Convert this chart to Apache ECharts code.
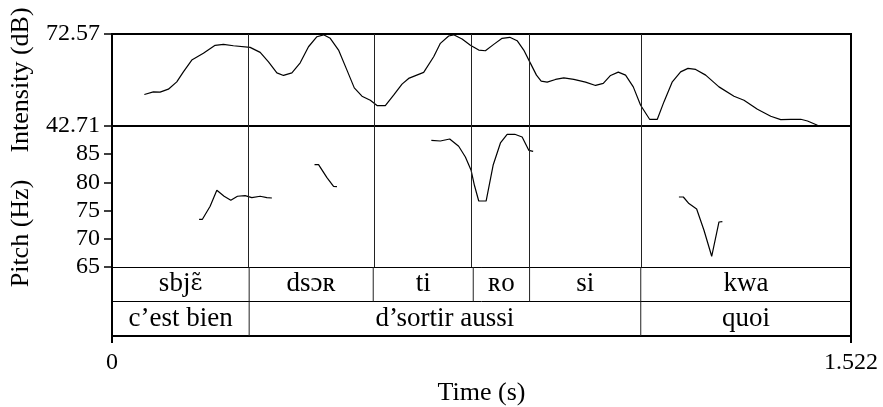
<!DOCTYPE html>
<html><head><meta charset="utf-8">
<script src="https://cdn.jsdelivr.net/npm/echarts@6/dist/echarts.min.js"></script>
<style>html,body{margin:0;padding:0;background:#fff}#c{width:883px;height:407px}</style>
</head><body><div id="c"></div>
<script>
// ---- data ----
const timeRange = [0, 1.522];
const timeTicks = [0, 1.522];
const intensityRange = [42.71, 72.57];
const intensityTicks = [42.71, 72.57];
const pitchRange = [65, 90];
const pitchTicks = [65, 70, 75, 80, 85];

const intensityTime = [0.0666,0.0852,0.0990,0.1161,0.1334,0.1470,0.1643,0.1882,0.2124,0.2295,
  0.2501,0.2845,0.3052,0.3223,0.3396,0.3532,0.3705,0.3876,0.4047,0.4221,
  0.4357,0.4495,0.4666,0.4839,0.4990,0.5148,0.5320,0.5458,0.5629,0.5800,
  0.5973,0.6109,0.6419,0.6625,0.6763,0.6934,0.7037,0.7210,0.7381,0.7553,
  0.7690,0.7862,0.8035,0.8192,0.8344,0.8480,0.8619,0.8742,0.8839,0.8963,
  0.9134,0.9305,0.9511,0.9753,0.9959,1.0118,1.0268,1.0427,1.0577,1.0736,
  1.0887,1.1072,1.1231,1.1367,1.1540,1.1711,1.1862,1.2021,1.2227,1.2501,
  1.2810,1.3016,1.3293,1.3567,1.3773,1.3979,1.4186,1.4324,1.4530];
const intensityDb = [52.94,53.78,53.69,54.66,57.04,60.29,64.10,66.29,68.89,69.22,
  68.76,68.24,66.61,63.55,59.97,59.12,59.97,63.23,68.43,71.69,
  72.30,71.17,67.36,60.85,55.09,52.38,51.08,49.35,49.35,52.71,
  56.29,58.15,60.10,65.18,69.54,71.92,72.30,70.94,68.89,67.36,
  67.13,69.20,71.17,71.50,70.39,67.36,63.03,59.22,57.27,56.94,
  57.82,58.34,57.82,56.94,55.87,56.52,59.12,60.20,59.22,55.41,
  49.45,44.89,44.89,50.53,57.04,60.29,61.40,61.08,59.22,55.41,
  52.38,51.08,48.15,45.87,44.80,44.89,44.89,44.34,42.94];

const pitch1Time = [0.1794,0.1862,0.2021,0.2159,0.2309,0.2447,0.2584,0.2742,0.2880,0.3052,0.3190,0.3293];
const pitch1Hz   = [73.46,73.46,75.76,78.60,77.54,76.83,77.54,77.66,77.31,77.54,77.31,77.23];
const pitch2Time = [0.4171,0.4254,0.4427,0.4563,0.4633];
const pitch2Hz   = [83.16,83.16,80.85,79.31,79.26];
const pitch3Time = [0.6577,0.6763,0.6955,0.7140,0.7278,0.7396,0.7464,0.7553,0.7705,0.7849,0.8000,0.8138,0.8295,0.8447,0.8584,0.8674];
const pitch3Hz   = [87.46,87.34,87.70,86.40,84.50,82.15,79.49,76.70,76.70,83.03,86.99,88.53,88.53,88.05,85.69,85.51];
const pitch4Time = [1.1676,1.1767,1.1882,1.2041,1.2192,1.2351,1.2501,1.2571];
const pitch4Hz   = [77.41,77.41,76.24,75.28,71.51,66.90,72.98,73.05];

const tier1Bounds = [0, 0.2825, 0.538, 0.744, 0.860, 1.089, 1.522];
const tier1Labels = ['sbjɛ̃', 'dsɔʀ', 'ti', 'ʀo', 'si', 'kwa'];
const tier2Bounds = [0, 0.2825, 1.089, 1.522];
const tier2Labels = ['c’est bien', 'd’sortir aussi', 'quoi'];

// ---- chart ----
const FONT = '"Liberation Serif","DejaVu Serif","Times New Roman",serif';
const IPA_FONT = '"DejaVu Serif",serif';
const TICK_FS = 24, TITLE_FS = 26, TIER_FS = 27;
const zip = (a, b) => a.map((v, i) => [v, b[i]]);
const innerBounds = tier1Bounds.slice(1, -1).map(v => ({ xAxis: v }));
const boundLine = {
  silent: true, symbol: 'none', animation: false,
  label: { show: false },
  lineStyle: { color: '#222', width: 1, type: 'solid' },
  data: innerBounds
};
const noAxisExtras = { axisTick: { show: false }, axisLabel: { show: false }, splitLine: { show: false } };
const thick = { show: true, onZero: false, lineStyle: { color: '#000', width: 2 } };

// Combining diacritics need a font with mark positioning: wrap them in a rich segment.
function richText(s) {
  return s.replace(/(.[\u0300-\u036f]+)/g, '{ipa|$1}');
}

function tierSeries(bounds, labels, row) {
  const data = labels.map((l, i) => [bounds[i], bounds[i + 1], row]);
  return {
    type: 'custom', xAxisIndex: 2, yAxisIndex: 3, silent: true, animation: false,
    encode: { x: [0, 1], y: 2 },
    data,
    renderItem(params, api) {
      const s = api.value(0), e = api.value(1), r = api.value(2);
      const top = api.coord([s, r + 0.5]);
      const bot = api.coord([s, r - 0.5]);
      const mid = api.coord([(s + e) / 2, r]);
      const children = [{
        type: 'text', x: mid[0], y: mid[1],
        style: { text: richText(labels[params.dataIndex]), fill: '#000', align: 'center', verticalAlign: 'middle',
                 fontSize: TIER_FS, fontFamily: FONT,
                 rich: { ipa: { fontSize: 23, fontFamily: IPA_FONT, fill: '#000' } } }
      }];
      if (s > 0) children.push({
        type: 'line', shape: { x1: top[0], y1: top[1], x2: bot[0], y2: bot[1] },
        style: { stroke: '#222', lineWidth: 1 }
      });
      return { type: 'group', children };
    }
  };
}

const pitchLine = (t, h) => ({
  type: 'line', xAxisIndex: 1, yAxisIndex: 1, data: zip(t, h), showSymbol: false,
  lineStyle: { color: '#000', width: 1.2 }, animation: false, silent: true
});

const option = {
  backgroundColor: '#fff',
  animation: false,
  textStyle: { fontFamily: FONT, color: '#000' },
  grid: [
    { left: 112, top: 34, width: 739, height: 92, show: true, borderColor: '#000', borderWidth: 2, backgroundColor: 'transparent' },
    { left: 112, top: 126, width: 739, height: 141 },
    { left: 112, top: 267, width: 739, height: 70 },
    { left: 112, top: 128, width: 739, height: 211 }
  ],
  xAxis: [
    { gridIndex: 0, type: 'value', min: timeRange[0], max: timeRange[1], show: false },
    { gridIndex: 1, type: 'value', min: timeRange[0], max: timeRange[1],
      axisLine: { show: true, onZero: false, lineStyle: { color: '#000', width: 1 } }, ...noAxisExtras },
    { gridIndex: 2, type: 'value', min: timeRange[0], max: timeRange[1], position: 'bottom',
      axisLine: thick,
      axisTick: { show: true, customValues: timeTicks, length: 7, lineStyle: { color: '#000', width: 2 } },
      axisLabel: { show: true, customValues: timeTicks, margin: 15, color: '#000', fontSize: TICK_FS, fontFamily: FONT,
                   formatter: v => String(v) },
      splitLine: { show: false },
      name: 'Time (s)', nameLocation: 'middle', nameGap: 44,
      nameTextStyle: { color: '#000', fontSize: TITLE_FS, fontFamily: FONT } },
    { gridIndex: 3, type: 'value', min: timeRange[0], max: timeRange[1], show: false }
  ],
  yAxis: [
    { gridIndex: 0, type: 'value', min: intensityRange[0], max: intensityRange[1],
      axisLine: thick,
      axisTick: { show: true, customValues: intensityTicks, length: 8, lineStyle: { color: '#000', width: 1.5 } },
      axisLabel: { show: true, customValues: intensityTicks, margin: 12, color: '#000', fontSize: TICK_FS, fontFamily: FONT,
                   formatter: v => v.toFixed(2) },
      splitLine: { show: false },
      name: 'Intensity (dB)', nameLocation: 'middle', nameRotate: 90, nameGap: 78,
      nameTextStyle: { color: '#000', fontSize: TITLE_FS, fontFamily: FONT } },
    { gridIndex: 1, type: 'value', min: pitchRange[0], max: pitchRange[1],
      axisLine: thick,
      axisTick: { show: true, customValues: pitchTicks, length: 8, lineStyle: { color: '#000', width: 1.5 } },
      axisLabel: { show: true, customValues: pitchTicks, margin: 12, color: '#000', fontSize: TICK_FS, fontFamily: FONT },
      splitLine: { show: false } },
    { gridIndex: 1, type: 'value', position: 'right', min: pitchRange[0], max: pitchRange[1], axisLine: thick, ...noAxisExtras },
    { gridIndex: 2, type: 'value', min: 0, max: 2, interval: 1,
      axisLine: thick, axisTick: { show: false }, axisLabel: { show: false },
      splitLine: { show: true, lineStyle: { color: '#000', width: 1 } } },
    { gridIndex: 2, type: 'value', position: 'right', min: 0, max: 2, axisLine: thick, ...noAxisExtras },
    { gridIndex: 3, type: 'value', min: 0, max: 1, axisLine: { show: false }, ...noAxisExtras,
      name: 'Pitch (Hz)', nameLocation: 'middle', nameRotate: 90, nameGap: 78,
      nameTextStyle: { color: '#000', fontSize: TITLE_FS, fontFamily: FONT } }
  ],
  series: [
    { type: 'line', xAxisIndex: 0, yAxisIndex: 0, data: zip(intensityTime, intensityDb), showSymbol: false,
      lineStyle: { color: '#000', width: 1.2 }, animation: false, silent: true, markLine: boundLine },
    Object.assign(pitchLine(pitch1Time, pitch1Hz), { markLine: boundLine }),
    pitchLine(pitch2Time, pitch2Hz),
    pitchLine(pitch3Time, pitch3Hz),
    pitchLine(pitch4Time, pitch4Hz),
    tierSeries(tier1Bounds, tier1Labels, 1.5),
    tierSeries(tier2Bounds, tier2Labels, 0.5)
  ]
};
const chart = echarts.init(document.getElementById('c'));
chart.setOption(option);
</script></body></html>
